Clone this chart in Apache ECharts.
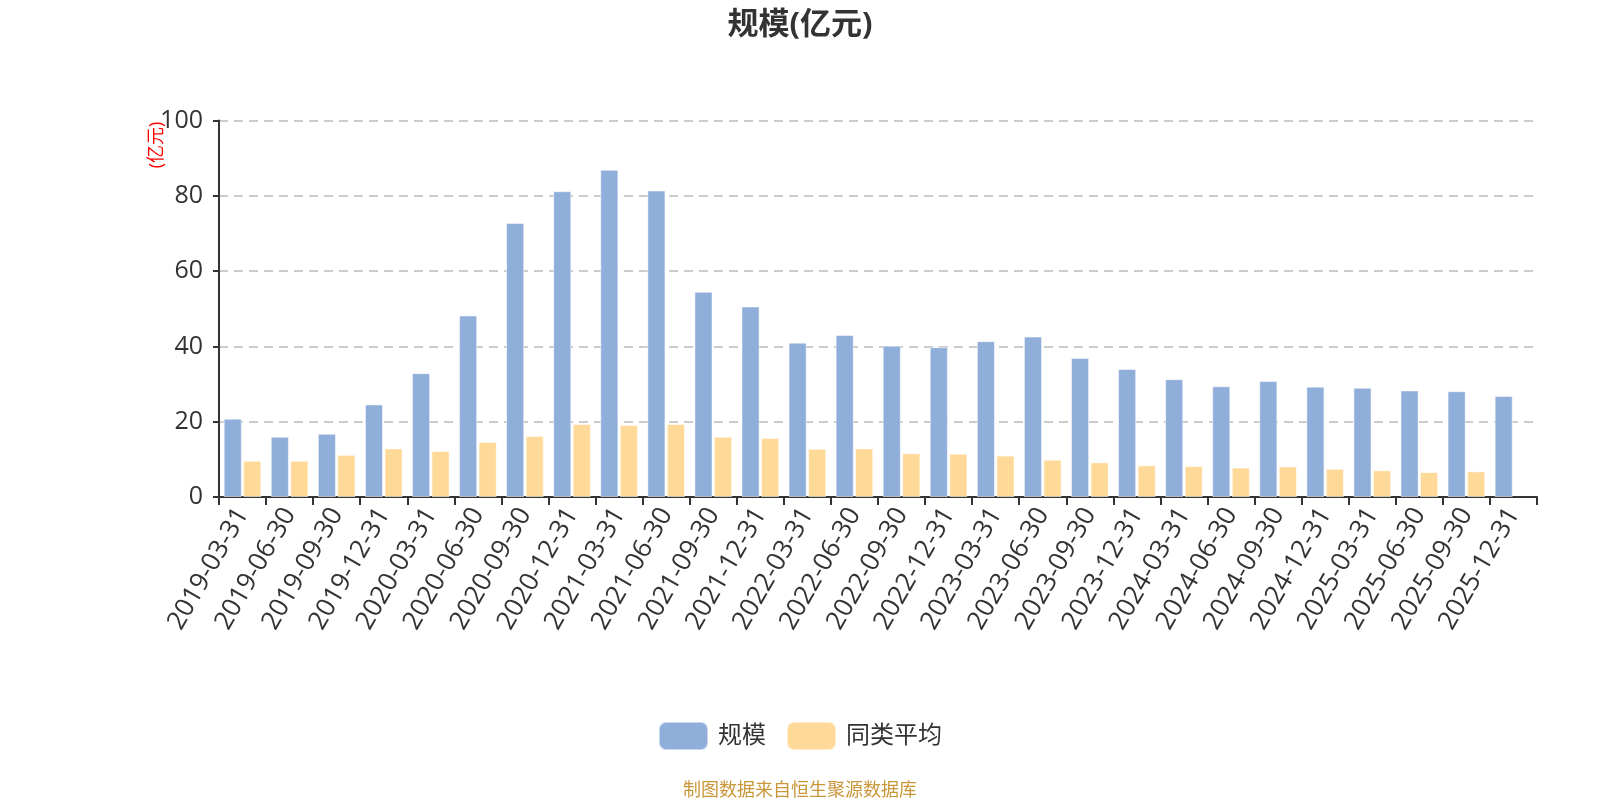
<!DOCTYPE html>
<html>
<head>
<meta charset="utf-8">
<script src="https://cdn.jsdelivr.net/npm/echarts@6/dist/echarts.min.js"></script>
<style>
html,body{margin:0;padding:0;background:#fff;}
#main{width:1600px;height:800px;}
</style>
</head>
<body>
<div id="main"></div>
<script>
var categories = ['2019-03-31','2019-06-30','2019-09-30','2019-12-31','2020-03-31','2020-06-30','2020-09-30','2020-12-31','2021-03-31','2021-06-30','2021-09-30','2021-12-31','2022-03-31','2022-06-30','2022-09-30','2022-12-31','2023-03-31','2023-06-30','2023-09-30','2023-12-31','2024-03-31','2024-06-30','2024-09-30','2024-12-31','2025-03-31','2025-06-30','2025-09-30','2025-12-31'];
var scaleValues = [20.8,16.0,16.8,24.6,32.9,48.2,72.8,81.2,86.9,81.4,54.5,50.6,41.0,43.0,40.2,39.8,41.4,42.6,36.9,34.0,31.3,29.4,30.8,29.3,29.0,28.3,28.1,26.8];
var avgValues = [9.6,9.6,11.2,12.9,12.2,14.6,16.2,19.4,19.1,19.4,16.0,15.7,12.8,12.9,11.6,11.5,11.0,9.9,9.2,8.4,8.2,7.8,8.1,7.5,7.1,6.6,6.8,null];
var yTicks = [0,20,40,60,80,100];
var seriesNames = ['规模','同类平均'];
var titleText = '规模(亿元)';
var unitText = '(亿元)';
var sourceText = '制图数据来自恒生聚源数据库';

var FONT = "'Open Sans', 'Noto Sans CJK SC', sans-serif";
var chart = echarts.init(document.getElementById('main'), null, {renderer:'canvas'});
chart.setOption({
  animation: false,
  backgroundColor: '#fff',
  color: ['#8FAEDA', '#FFD998'],
  title: [{
    text: titleText,
    left: 'center',
    top: 5,
    textStyle: {fontSize: 31, fontWeight: 'bold', color: '#333', fontFamily: FONT}
  }, {
    text: sourceText,
    left: 'center',
    top: 777,
    textStyle: {fontSize: 18, fontWeight: 'normal', color: '#C9963A', fontFamily: FONT}
  }],
  graphic: [{
    type: 'text',
    x: 157,
    y: 145,
    rotation: Math.PI / 2,
    style: {text: unitText, fill: '#ff0000', fontSize: 18, align: 'center', verticalAlign: 'middle', fontFamily: FONT}
  }],
  legend: {
    data: seriesNames,
    left: 'center',
    top: 716,
    itemWidth: 49,
    itemHeight: 28,
    itemGap: 20,
    textStyle: {fontSize: 24, color: '#333', fontFamily: FONT, padding: [0,0,0,5]}
  },
  grid: {left: 219, right: 63, top: 120.5, bottom: 303, containLabel: false},
  xAxis: {
    type: 'category',
    data: categories,
    boundaryGap: true,
    axisLine: {lineStyle: {color: '#333', width: 2}},
    axisTick: {show: true, alignWithLabel: false, length: 8, lineStyle: {color: '#333', width: 2}},
    axisLabel: {interval: 0, rotate: 60, fontSize: 26, color: '#333', margin: 13, fontFamily: FONT}
  },
  yAxis: {
    type: 'value',
    min: yTicks[0],
    max: yTicks[yTicks.length - 1],
    interval: yTicks[1] - yTicks[0],
    axisLine: {show: true, lineStyle: {color: '#333', width: 2}},
    axisTick: {show: true, length: 6, lineStyle: {color: '#333', width: 2}},
    axisLabel: {fontSize: 25, color: '#333', margin: 16, fontFamily: FONT},
    splitLine: {show: true, lineStyle: {color: '#ccc', width: 2, type: [9, 6]}}
  },
  series: [{
    name: seriesNames[0],
    type: 'bar',
    data: scaleValues,
    barGap: '8%',
    barCategoryGap: '20%',
    itemStyle: {borderColor: 'rgba(255,255,255,0.5)', borderWidth: 1}
  }, {
    name: seriesNames[1],
    type: 'bar',
    data: avgValues,
    itemStyle: {borderColor: 'rgba(255,255,255,0.5)', borderWidth: 1}
  }]
});
</script>
</body>
</html>
